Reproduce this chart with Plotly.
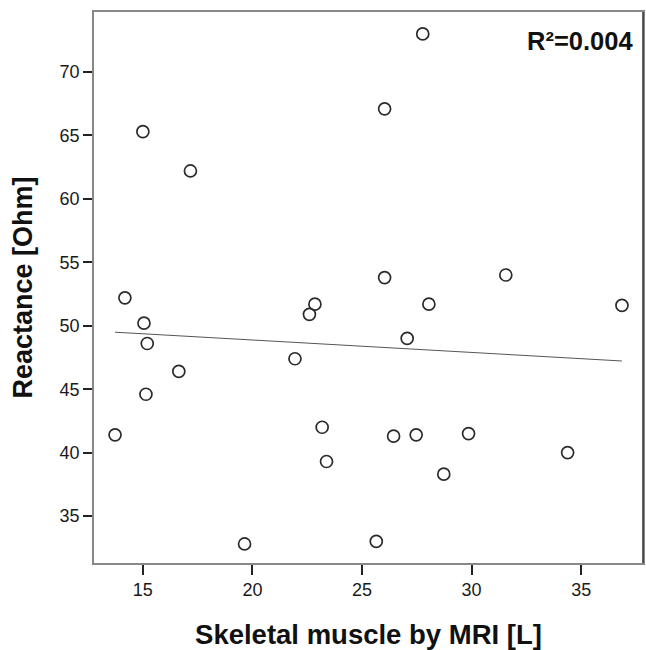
import numpy as np
import plotly.graph_objects as go

# Data
muscle_L = [13.73, 14.18, 15.00, 17.17, 15.05, 15.20, 15.14, 16.64, 19.64, 21.94,
            22.60, 22.85, 23.18, 23.38, 25.65, 26.44, 27.47, 28.73, 29.86, 34.38,
            27.06, 27.77, 26.03, 26.03, 28.05, 31.56, 36.86]
reactance_ohm = [41.4, 52.2, 65.3, 62.2, 50.2, 48.6, 44.6, 46.4, 32.8, 47.4,
                 50.9, 51.7, 42.0, 39.3, 33.0, 41.3, 41.4, 38.3, 41.5, 40.0,
                 49.0, 73.0, 67.1, 53.8, 51.7, 54.0, 51.6]
x_ticks = [15, 20, 25, 30, 35]
y_ticks = [35, 40, 45, 50, 55, 60, 65, 70]
r2_label = "R²=0.004"

x = np.array(muscle_L)
y = np.array(reactance_ohm)
slope, intercept = np.polyfit(x, y, 1)
fit_x = np.array([x.min(), x.max()])
fit_y = slope * fit_x + intercept

FONT = "Liberation Sans, Arial, sans-serif"

fig = go.Figure()
fig.add_trace(go.Scatter(
    x=fit_x, y=fit_y, mode="lines",
    line=dict(color="#555555", width=1), hoverinfo="skip", showlegend=False))
fig.add_trace(go.Scatter(
    x=muscle_L, y=reactance_ohm, mode="markers",
    marker=dict(symbol="circle-open", size=12, color="#2a2a2a",
                line=dict(width=1.7, color="#2a2a2a")),
    showlegend=False))

fig.add_annotation(
    x=0.985, y=0.985, xref="paper", yref="paper", xanchor="right", yanchor="top",
    yshift=-5,
    text="<b>" + r2_label + "</b>", showarrow=False,
    font=dict(family=FONT, size=25.5, color="#111111"))

# darker right frame edge as in the reference
fig.add_shape(type="line", xref="paper", yref="paper", x0=1, x1=1, y0=0, y1=1,
              line=dict(color="#333333", width=1.5))

fig.update_xaxes(
    range=[12.77, 37.82], tickvals=x_ticks, ticks="outside", ticklen=10,
    tickwidth=1.5, tickcolor="#222222",
    showline=True, linecolor="#888888", linewidth=1.5, mirror=True,
    showgrid=False, zeroline=False,
    tickfont=dict(family=FONT, size=18, color="#1a1a1a"),
    title=dict(text="<b>Skeletal muscle by MRI [L]</b>", standoff=26,
               font=dict(family=FONT, size=27.5, color="#111111")))
fig.update_yaxes(
    range=[31.3, 74.73], tickvals=y_ticks, ticks="outside", ticklen=9,
    tickwidth=1.5, tickcolor="#222222",
    showline=True, linecolor="#888888", linewidth=1.5, mirror=True,
    showgrid=False, zeroline=False,
    tickfont=dict(family=FONT, size=18, color="#1a1a1a"),
    title=dict(text="<b>Reactance [Ohm]</b>", standoff=19,
               font=dict(family=FONT, size=27, color="#111111")))

fig.update_layout(
    width=646, height=650,
    margin=dict(l=94, r=1, t=12, b=87),
    plot_bgcolor="white", paper_bgcolor="white",
    font=dict(family=FONT))

fig.write_html("out.html")
